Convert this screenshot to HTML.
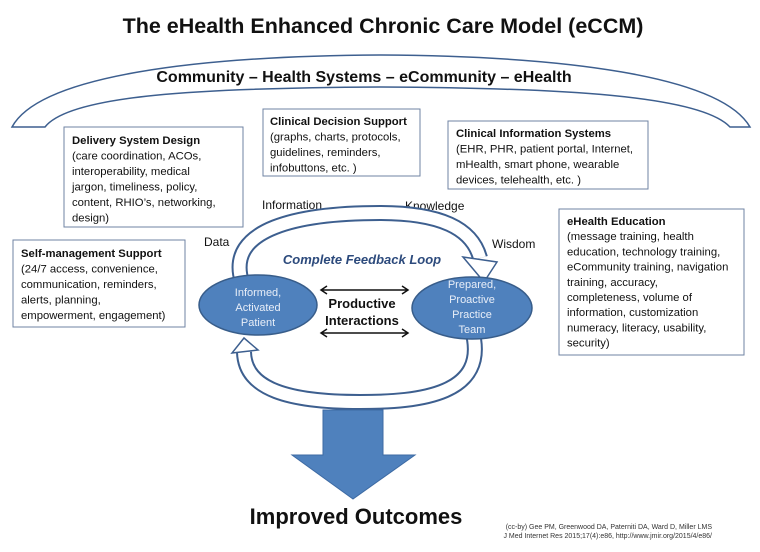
<!DOCTYPE html>
<html><head><meta charset="utf-8"><style>
body{margin:0;background:#fff}
svg{display:block}
text{font-family:"Liberation Sans",sans-serif}
.b{font-weight:bold}
</style></head><body>
<svg width="760" height="552" viewBox="0 0 760 552" xmlns="http://www.w3.org/2000/svg">
<text x="383" y="33" text-anchor="middle" font-size="21.5" class="b" fill="#111">The eHealth Enhanced Chronic Care Model (eCCM)</text>
<path d="M12,127 C40,75 200,56 380,55 C560,56 720,75 750,127 L730,127 C700,95 560,88 380,87 C200,88 70,95 45,127 Z" fill="#fff" stroke="#3d5f8f" stroke-width="1.5"/>
<text x="364" y="82" text-anchor="middle" font-size="16" class="b" fill="#111">Community – Health Systems – eCommunity – eHealth</text>
<g fill="#fff" stroke="#6f83a3" stroke-width="1">
<rect x="64" y="127" width="179" height="100"/>
<rect x="263" y="109" width="157" height="67"/>
<rect x="448" y="121" width="200" height="68"/>
<rect x="13" y="240" width="172" height="87"/>
<rect x="559" y="209" width="185" height="146"/>
</g>
<g font-size="11.3" fill="#111">
<text x="72" y="144"><tspan class="b">Delivery System Design</tspan><tspan x="72" dy="15.5">(care coordination, ACOs,</tspan><tspan x="72" dy="15.5">interoperability, medical</tspan><tspan x="72" dy="15.5">jargon, timeliness, policy,</tspan><tspan x="72" dy="15.5">content, RHIO’s, networking,</tspan><tspan x="72" dy="15.5">design)</tspan></text>
<text x="270" y="125"><tspan class="b">Clinical Decision Support</tspan><tspan x="270" dy="15.5">(graphs, charts, protocols,</tspan><tspan x="270" dy="15.5">guidelines, reminders,</tspan><tspan x="270" dy="15.5">infobuttons, etc. )</tspan></text>
<text x="456" y="137"><tspan class="b">Clinical Information Systems</tspan><tspan x="456" dy="15.5">(EHR, PHR, patient portal, Internet,</tspan><tspan x="456" dy="15.5">mHealth, smart phone, wearable</tspan><tspan x="456" dy="15.5">devices, telehealth, etc. )</tspan></text>
<text x="21" y="257"><tspan class="b">Self-management Support</tspan><tspan x="21" dy="15.5">(24/7 access, convenience,</tspan><tspan x="21" dy="15.5">communication, reminders,</tspan><tspan x="21" dy="15.5">alerts, planning,</tspan><tspan x="21" dy="15.5">empowerment, engagement)</tspan></text>
<text x="567" y="225"><tspan class="b">eHealth Education</tspan><tspan x="567" dy="15.2">(message training, health</tspan><tspan x="567" dy="15.2">education, technology training,</tspan><tspan x="567" dy="15.2">eCommunity training, navigation</tspan><tspan x="567" dy="15.2">training, accuracy,</tspan><tspan x="567" dy="15.2">completeness, volume of</tspan><tspan x="567" dy="15.2">information, customization</tspan><tspan x="567" dy="15.2">numeracy, literacy, usability,</tspan><tspan x="567" dy="15.2">security)</tspan></text>
</g>
<g font-size="12" fill="#111">
<text x="262" y="209">Information</text>
<text x="405" y="210">Knowledge</text>
<text x="204" y="246">Data</text>
<text x="492" y="248">Wisdom</text>
</g>
<path d="M242,282 C225,228 300,213 380,213 C440,213 472,228 480,258" fill="none" stroke="#3d5f8f" stroke-width="16"/>
<path d="M242,282 C225,228 300,213 380,213 C440,213 472,228 480,258" fill="none" stroke="#fff" stroke-width="12"/>
<polygon points="463,257 497,262 484,282" fill="#fff" stroke="#3d5f8f" stroke-width="1.5"/>
<path d="M472,330 C490,395 420,402 360,402 C290,402 245,390 244,352" fill="none" stroke="#3d5f8f" stroke-width="16"/>
<path d="M472,330 C490,395 420,402 360,402 C290,402 245,390 244,352" fill="none" stroke="#fff" stroke-width="12"/>
<polygon points="232,353 258,350 244,338" fill="#fff" stroke="#3d5f8f" stroke-width="1.5"/>
<text x="362" y="264" text-anchor="middle" font-size="13" font-weight="bold" font-style="italic" fill="#2c4a7c">Complete Feedback Loop</text>
<ellipse cx="258" cy="305" rx="59" ry="30" fill="#4f81bd" stroke="#385d8a" stroke-width="1.5"/>
<ellipse cx="472" cy="308" rx="60" ry="31" fill="#4f81bd" stroke="#385d8a" stroke-width="1.5"/>
<g font-size="11" fill="#e8eef8" text-anchor="middle">
<text x="258" y="296">Informed,</text><text x="258" y="311">Activated</text><text x="258" y="326">Patient</text>
<text x="472" y="288">Prepared,</text><text x="472" y="303">Proactive</text><text x="472" y="318">Practice</text><text x="472" y="333">Team</text>
</g>
<text x="362" y="308" text-anchor="middle" font-size="13" class="b" fill="#111">Productive</text>
<text x="362" y="325" text-anchor="middle" font-size="13" class="b" fill="#111">Interactions</text>
<g stroke="#111" stroke-width="1.5" fill="none">
<path d="M322,290 H407 M327,286 L321,290 L327,294 M402,286 L408,290 L402,294"/>
<path d="M322,333 H407 M327,329 L321,333 L327,337 M402,329 L408,333 L402,337"/>
</g>
<polygon points="323,410 383,410 383,455 415,455 353,499 292,455 323,455" fill="#4f81bd" stroke="#3d6aa3" stroke-width="1"/>
<text x="356" y="524" text-anchor="middle" font-size="22" class="b" fill="#111">Improved Outcomes</text>
<g font-size="7" fill="#333" text-anchor="end">
<text x="712" y="529">(cc-by) Gee PM, Greenwood DA, Paterniti DA, Ward D, Miller LMS</text>
<text x="712" y="538">J Med Internet Res 2015;17(4):e86, http://www.jmir.org/2015/4/e86/</text>
</g>
</svg>
</body></html>
